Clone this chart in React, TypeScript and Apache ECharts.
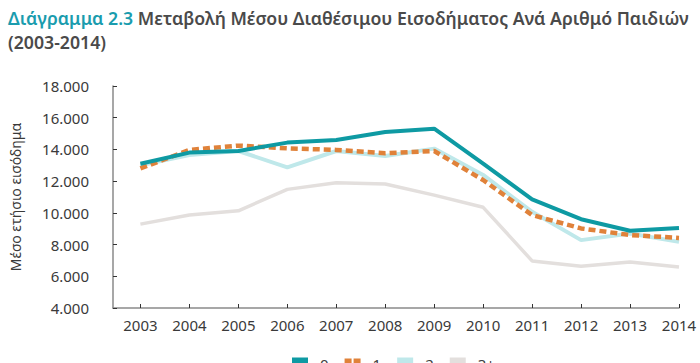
import React, { useEffect, useRef } from "react";
import * as echarts from "echarts";

const years = [2003, 2004, 2005, 2006, 2007, 2008, 2009, 2010, 2011, 2012, 2013, 2014];
const seriesNames = ["0", "1", "2", "3+"];
const children0 = [13100, 13800, 13900, 14430, 14600, 15100, 15310, 13100, 10850, 9600, 8870, 9040];
const children1 = [12800, 13970, 14240, 14070, 13970, 13760, 13900, 12070, 9860, 9020, 8600, 8420];
const children2 = [13000, 13650, 13900, 12870, 13900, 13590, 14050, 12390, 10070, 8280, 8700, 8170];
const children3 = [9290, 9860, 10130, 11480, 11900, 11820, 11120, 10350, 6970, 6640, 6900, 6590];
const yTicks = { min: 4000, max: 18000, interval: 2000 };

const titleMain = "Διάγραμμα 2.3";
const titleRest = "Μεταβολή Μέσου Διαθέσιμου Εισοδήματος Ανά Αριθμό Παιδιών";
const titleLine2 = "(2003-2014)";
const yName = "Μέσο ετήσιο εισόδημα";

const colors = ["#0e9aa3", "#e0823a", "#bfe8ea", "#e3dfdd"];
const FONT = "Noto Sans";

export default function App() {
  const ref = useRef<HTMLDivElement>(null);
  useEffect(() => {
    if (!ref.current) return;
    const chart = echarts.init(ref.current, null, { renderer: "svg" });
    const toPairs = (arr: number[]) => arr.map((v, i) => [years[i], v]);
    const allData = [children0, children1, children2, children3];
    const zs = [4, 3, 2, 1];
    const widths = [4, 4.5, 4, 3.5];
    chart.setOption({
      animation: false,
      textStyle: { fontFamily: FONT },
      title: {
        left: 3,
        top: 1,
        text: `{a|${titleMain}} {b|${titleRest}}\n{b|${titleLine2}}`,
        textStyle: {
          rich: {
            a: { fontSize: 17.7, fontWeight: 600, color: "#1a9cae", fontFamily: FONT, lineHeight: 24 },
            b: { fontSize: 17.7, fontWeight: 600, color: "#4a4a4a", fontFamily: FONT, lineHeight: 24 },
          },
        },
      },
      legend: {
        top: 351,
        left: 287,
        itemWidth: 16,
        itemHeight: 12,
        itemGap: 16,
        textStyle: { fontSize: 15, color: "#404040", padding: [0, 0, 0, 7] },
        data: seriesNames.map((n, i) => ({
          name: n,
          icon: i === 1 ? "path://M0,0h7v10h-7z M9,0h7v10h-7z" : "rect",
          itemStyle: { color: colors[i] },
        })),
      },
      grid: { left: 100, right: 21, top: 86, bottom: 55 },
      xAxis: {
        type: "value",
        min: 2002.44,
        max: 2014,
        splitLine: { show: false },
        axisLine: { show: true, lineStyle: { color: "#8a8a8a", width: 1.5 } },
        axisTick: { show: true, inside: true, length: 4, customValues: years, lineStyle: { color: "#333" } },
        axisLabel: {
          customValues: years,
          formatter: (v: number) => String(Math.round(v)),
          fontSize: 15,
          color: "#3a3a3a",
          margin: 9,
        },
      },
      yAxis: {
        type: "value",
        min: yTicks.min,
        max: yTicks.max,
        interval: yTicks.interval,
        name: yName,
        nameLocation: "middle",
        nameGap: 91,
        nameTextStyle: { fontSize: 14, color: "#3a3a3a" },
        splitLine: { show: false },
        axisLine: { show: true, lineStyle: { color: "#8a8a8a", width: 1.5 } },
        axisTick: { show: true, inside: true, length: 4, lineStyle: { color: "#333" } },
        axisLabel: {
          fontSize: 15,
          color: "#3a3a3a",
          margin: 24,
          formatter: (v: number) => v.toLocaleString("de-DE"),
        },
      },
      series: allData.map((d, i) => ({
        name: seriesNames[i],
        type: "line",
        data: toPairs(d),
        symbol: "none",
        z: zs[i],
        color: colors[i],
        lineStyle: {
          color: colors[i],
          width: widths[i],
          type: i === 1 ? [7, 4] : "solid",
        },
      })),
    });
    return () => chart.dispose();
  }, []);
  return <div ref={ref} style={{ width: 700, height: 363, position: "absolute", left: 0, top: 0 }} />;
}
